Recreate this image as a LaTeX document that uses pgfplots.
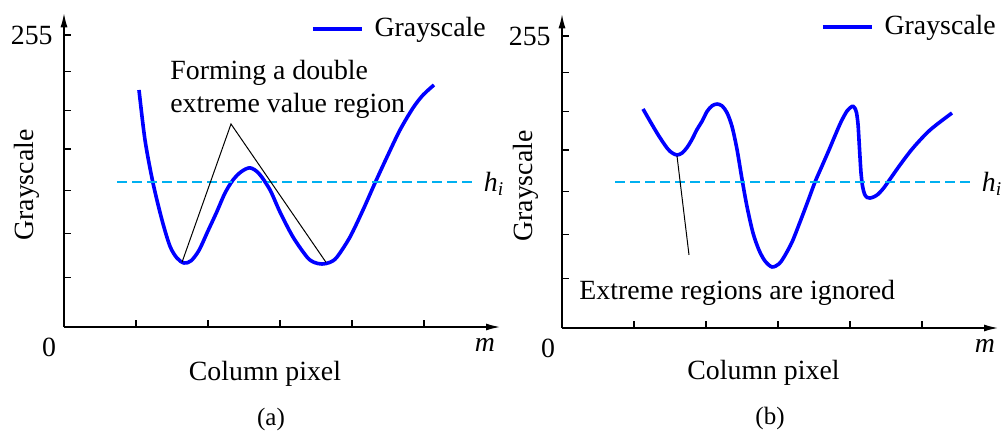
\documentclass[border=0pt]{standalone}
\usepackage{fontspec}
\setmainfont{Liberation Serif}
\usepackage{pgfplots}
\pgfplotsset{compat=1.18}
\usetikzlibrary{arrows.meta}
\definecolor{gblue}{RGB}{0,0,255}
\definecolor{hcyan}{RGB}{0,176,240}

\pgfplotsset{
  panel/.style={
    x=0.5pt, y=0.5725pt,
    xmin=0, xmax=436, ymin=0, ymax=274,
    axis lines=left,
    axis line style={line width=0.7pt, -{Latex[length=7pt,width=3.5pt]}},
    xtick={72,144,216,288,360},
    ytick={43,81.5,119,155.5,189,223,255},
    xticklabels={}, yticklabels={},
    tick align=inside,
    major tick length=3.3pt,
    tick style={black, line width=0.7pt},
    clip=false,
    anchor=south west,
    legend style={draw=none, fill=none, inner sep=0pt, outer sep=0pt,
      anchor=west, column sep=5.5pt, nodes={inner sep=0pt}},
    legend image code/.code={\draw[#1] (0pt,0pt) -- (24.5pt,0pt);},
  },
  curve/.style={gblue, line width=1.8pt, smooth, tension=0.5},
  hline/.style={hcyan, line width=0.9pt, dash pattern=on 5pt off 2.5pt, forget plot},
  anno/.style={black, line width=0.5pt, forget plot},
}

\begin{document}
\fontsize{13.9}{15.5}\selectfont%
\begin{tikzpicture}
\useasboundingbox (0,0) rectangle (502pt,216.5pt);

% ---------------- (a) ----------------
\begin{axis}[panel, at={(32pt,53pt)},
  legend style={at={(axis cs:247,260.3)}}]
\addplot[curve] coordinates {
 (75,207) (81,163.3) (89,125.8) (98,93.4) (106,70.5) (113,60.2) (120,55.9)
 (127,57.8) (135,67) (144,84) (152.5,100) (161,117) (169,128.4) (177,135.5)
 (186,139) (195,134) (206,119.7) (216,100.4) (229,78.6) (243,61.1)
 (250,56.5) (258,55) (266,56.5) (273,61.1) (286,78.6) (299,102.2)
 (311,125.8) (323,148.5) (336,172.1) (349,191.3) (359,202.6) (370,211.4)};
\addlegendentry{Grayscale}
\addplot[hline] coordinates {(53,126.6) (409,126.6)};
\addplot[anno] coordinates {(118,56.5) (167,177.3) (262,56.5)};
\node[anchor=east, inner sep=0pt] at (axis cs:-11,255) {255};
\node[inner sep=0pt] at (axis cs:-15,-17.5) {0};
\node[inner sep=0pt] at (axis cs:421,-16) {\textit{m}};
\node[inner sep=0pt] at (axis cs:430,124.9) {\textit{h\textsubscript{i}}};
\node[anchor=base, inner sep=0pt] at (axis cs:201,-46.3) {Column pixel};
\node[anchor=base, inner sep=0pt, font=\fontsize{12.5}{14}\selectfont] at (axis cs:207,-85.6) {(a)};
\node[rotate=90, anchor=base, inner sep=0pt] at (axis cs:-31,124) {Grayscale};
\node[anchor=north west, align=left, inner sep=0pt,
  font=\fontsize{13.9}{16.5}\selectfont] at (axis cs:106,233.2)
  {Forming a double\\extreme value region};
\end{axis}

% ---------------- (b) ----------------
\begin{axis}[panel, at={(281pt,52.5pt)},
  legend style={at={(axis cs:259,262.9)}}]
\addplot[curve] coordinates {
 (81,191.3) (95,170.3) (105,157.2) (110,153) (115,151.1) (120,152.8)
 (125,157.6) (130,164.7) (135,173.4) (140,180.5) (145,189.1) (150,194)
 (155,195.6) (160,194) (165,188) (170,176) (175,156) (180,130) (185,106)
 (191,83) (197,68) (203,58.5) (210,53.3) (217,56) (222,62) (230,75)
 (238,92.6) (246,111) (253,127.5) (260,141.5) (267,155.5) (273,168)
 (279,180) (285,189.5) (290,193.5) (292.5,192.5) (294.5,188) (296,178)
 (297,164) (298,149) (299,135.5) (300.5,124) (302.5,117) (305,114)
 (308,113.5) (312,114.6) (316,116.8) (321,121.5) (326,127.5) (338,142.4)
 (351,157.2) (368,172.9) (390,187.8)};
\addlegendentry{Grayscale}
\addplot[hline] coordinates {(53,127.5) (410,127.5)};
\addplot[anno] coordinates {(115,150.2) (127,63.8)};
\node[anchor=east, inner sep=0pt] at (axis cs:-11,255) {255};
\node[inner sep=0pt] at (axis cs:-14,-17.5) {0};
\node[inner sep=0pt] at (axis cs:423,-16) {\textit{m}};
\node[inner sep=0pt] at (axis cs:430,125.8) {\textit{h\textsubscript{i}}};
\node[anchor=base, inner sep=0pt] at (axis cs:201.5,-45.4) {Column pixel};
\node[anchor=base, inner sep=0pt, font=\fontsize{12.5}{14}\selectfont] at (axis cs:208,-84.7) {(b)};
\node[rotate=90, anchor=base, inner sep=0pt] at (axis cs:-30,124) {Grayscale};
\node[anchor=base west, inner sep=0pt] at (axis cs:17,24.5) {Extreme regions are ignored};
\end{axis}
\end{tikzpicture}
\end{document}
